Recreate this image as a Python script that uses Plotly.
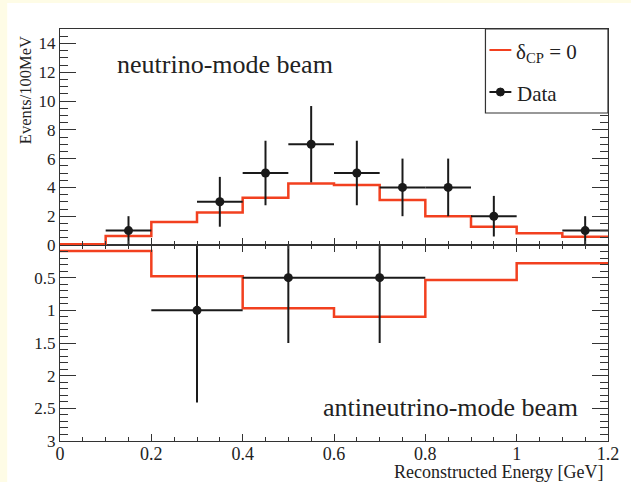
import plotly.graph_objects as go

# ---------------- data ----------------
top_edges = [0.0, 0.1, 0.2, 0.3, 0.4, 0.5, 0.6, 0.7, 0.8, 0.9, 1.0, 1.1, 1.2]
top_pred = [0.05, 0.62, 1.60, 2.26, 3.28, 4.27, 4.16, 3.12, 2.00, 1.27, 0.81, 0.58]
top_data_x = [0.15, 0.35, 0.45, 0.55, 0.65, 0.75, 0.85, 0.95, 1.15]
top_data_y = [1, 3, 5, 7, 5, 4, 4, 2, 1]
top_data_err = [1.0, 1.73, 2.24, 2.65, 2.24, 2.0, 2.0, 1.41, 1.0]
top_bin_half = 0.05

bot_edges = [0.0, 0.2, 0.4, 0.6, 0.8, 1.0, 1.2]
bot_pred = [0.09, 0.48, 0.97, 1.10, 0.535, 0.28]
bot_data_x = [0.3, 0.5, 0.7]
bot_data_y = [1.0, 0.5, 0.5]
bot_err_plus = [1.41, 1.0, 1.0]
bot_err_minus = [1.0, 0.5, 0.5]
bot_bin_half = 0.1

top_yticks = [0, 2, 4, 6, 8, 10, 12, 14]
bot_yticks = [0.5, 1, 1.5, 2, 2.5, 3]
bot_ylabels = ["0.5", "1", "1.5", "2", "2.5", "3"]
x_ticks = [0, 0.2, 0.4, 0.6, 0.8, 1.0, 1.2]
x_labels = ["0", "0.2", "0.4", "0.6", "0.8", "1", "1.2"]

# ---------------- style ----------------
RED = "#f2401f"
BLK = "#1a1a1a"
AX = "#333333"
FONT = "Liberation Serif"
W, H = 631, 482
ML, MR, MT, MB = 60, 21, 29, 41
PW, PH = W - ML - MR, H - MT - MB
split = (H - MB - 245) / PH  # boundary between panels


def px_x(p):
    return (p - ML) / PW


def px_y(p):
    return (H - MB - p) / PH


def step(edges, vals):
    return list(edges), list(vals) + [vals[-1]]


fig = go.Figure()

sx, sy = step(top_edges, top_pred)
fig.add_trace(go.Scatter(x=sx, y=sy, mode="lines", line=dict(color=RED, width=2.5, shape="hv"),
                         xaxis="x2", yaxis="y2", showlegend=False, hoverinfo="skip"))
fig.add_trace(go.Scatter(x=top_data_x, y=top_data_y, mode="markers",
                         marker=dict(color=BLK, size=9),
                         error_y=dict(type="data", array=top_data_err, color=BLK, thickness=2, width=0),
                         error_x=dict(type="constant", value=top_bin_half, color=BLK, thickness=2, width=0),
                         xaxis="x2", yaxis="y2", showlegend=False))

bx, by = step(bot_edges, bot_pred)
fig.add_trace(go.Scatter(x=bx, y=by, mode="lines", line=dict(color=RED, width=2.5, shape="hv"),
                         xaxis="x", yaxis="y", showlegend=False, hoverinfo="skip"))
fig.add_trace(go.Scatter(x=bot_data_x, y=bot_data_y, mode="markers",
                         marker=dict(color=BLK, size=9),
                         error_y=dict(type="data", array=bot_err_plus, arrayminus=bot_err_minus,
                                      color=BLK, thickness=2, width=0),
                         error_x=dict(type="constant", value=bot_bin_half, color=BLK, thickness=2, width=0),
                         xaxis="x", yaxis="y", showlegend=False))

tickfont_y = dict(family=FONT, size=17, color="#222")
tickfont_x = dict(family=FONT, size=18, color="#222")

fig.update_layout(
    width=W, height=H,
    margin=dict(l=ML, r=MR, t=MT, b=MB),
    paper_bgcolor="#fefce6",
    plot_bgcolor="white",
    font=dict(family=FONT, color="#222"),
    showlegend=False,
    xaxis=dict(domain=[0, 1], range=[0, 1.2], anchor="y",
               tickvals=x_ticks, ticktext=x_labels, tickfont=tickfont_x,
               ticks="inside", ticklen=7, tickwidth=1.2, tickcolor=AX,
               ticklabelstandoff=-4,
               minor=dict(dtick=0.05, ticks="inside", ticklen=4, tickwidth=1.2, tickcolor=AX, showgrid=False),
               showline=True, linecolor=AX, linewidth=1.2, mirror="ticks",
               showgrid=False, zeroline=False),
    yaxis=dict(domain=[0, split], range=[3, 0], anchor="x",
               tickvals=bot_yticks, ticktext=bot_ylabels, tickfont=tickfont_y,
               ticks="inside", ticklen=16, tickwidth=1.2, tickcolor=AX,
               minor=dict(dtick=0.1, ticks="inside", ticklen=8, tickwidth=1.2, tickcolor=AX, showgrid=False),
               showline=True, linecolor=AX, linewidth=1.2, mirror="ticks",
               showgrid=False, zeroline=False),
    xaxis2=dict(domain=[0, 1], range=[0, 1.2], anchor="y2", matches="x",
                tickvals=x_ticks, showticklabels=False,
                ticks="inside", ticklen=7, tickwidth=1.2, tickcolor=AX,
                minor=dict(dtick=0.05, ticks="inside", ticklen=4, tickwidth=1.2, tickcolor=AX, showgrid=False),
                showline=True, linecolor=AX, linewidth=1.2, mirror=True,
                showgrid=False, zeroline=False),
    yaxis2=dict(domain=[split, 1], range=[0, 15], anchor="x2",
                tickvals=top_yticks, tickfont=tickfont_y,
                ticks="inside", ticklen=16, tickwidth=1.2, tickcolor=AX,
                minor=dict(dtick=0.5, ticks="inside", ticklen=8, tickwidth=1.2, tickcolor=AX, showgrid=False),
                showline=True, linecolor=AX, linewidth=1.2, mirror="ticks",
                showgrid=False, zeroline=False),
)

# white page panel behind the chart
fig.add_shape(type="rect", xref="paper", yref="paper", layer="below",
              x0=px_x(7), x1=px_x(640), y0=px_y(490), y1=px_y(3),
              fillcolor="white", line=dict(width=0))

# legend box (manual)
fig.add_shape(type="rect", xref="paper", yref="paper", layer="above",
              x0=px_x(487), x1=1, y0=px_y(113), y1=1,
              fillcolor="white", line=dict(color=AX, width=1.2))
fig.add_shape(type="line", xref="paper", yref="paper", layer="above",
              x0=px_x(491), x1=px_x(513), y0=px_y(50), y1=px_y(50),
              line=dict(color=RED, width=2))
fig.add_shape(type="line", xref="paper", yref="paper", layer="above",
              x0=px_x(491), x1=px_x(513), y0=px_y(92), y1=px_y(92),
              line=dict(color=BLK, width=2))
fig.add_shape(type="circle", xref="paper", yref="paper", layer="above",
              x0=px_x(498), x1=px_x(506), y0=px_y(96), y1=px_y(88),
              fillcolor=BLK, line=dict(color=BLK, width=1))

ann_font = dict(family=FONT, color="#222")
fig.add_annotation(xref="paper", yref="paper", x=px_x(516), y=px_y(53),
                   xanchor="left", yanchor="middle", showarrow=False,
                   text="δ<sub>CP</sub> = 0", font=dict(size=21, **ann_font))
fig.add_annotation(xref="paper", yref="paper", x=px_x(517), y=px_y(94),
                   xanchor="left", yanchor="middle", showarrow=False,
                   text="Data", font=dict(size=21, **ann_font))

fig.add_annotation(xref="paper", yref="paper", x=px_x(226), y=px_y(65),
                   xanchor="center", yanchor="middle", showarrow=False,
                   text="neutrino-mode beam", font=dict(size=26, **ann_font))
fig.add_annotation(xref="paper", yref="paper", x=px_x(452), y=px_y(407),
                   xanchor="center", yanchor="middle", showarrow=False,
                   text="antineutrino-mode beam", font=dict(size=26, **ann_font))

fig.add_annotation(xref="paper", yref="paper", x=px_x(25), y=px_y(90),
                   xanchor="center", yanchor="middle", showarrow=False, textangle=-90,
                   text="Events/100MeV", font=dict(size=16.5, **ann_font))
fig.add_annotation(xref="paper", yref="paper", x=px_x(608), y=px_y(472),
                   xanchor="right", yanchor="middle", showarrow=False,
                   text="Reconstructed Energy [GeV]", font=dict(size=18, **ann_font))

fig.write_html("out.html", config={"displayModeBar": False},
               post_script="document.body.style.margin='0';document.body.style.overflow='hidden';")
